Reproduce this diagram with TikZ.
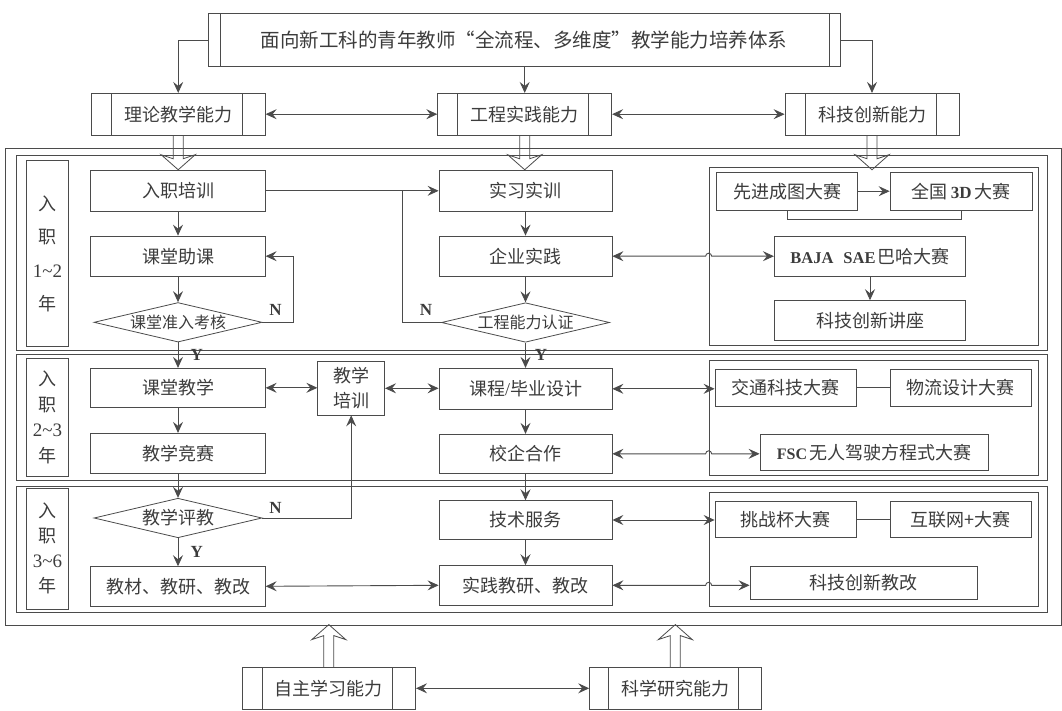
\documentclass[tikz,border=0pt]{standalone}
\usepackage{fontspec}
\setmainfont{Liberation Serif}
\newfontfamily\cjk{Noto Sans CJK SC}
\usetikzlibrary{shapes.geometric,arrows.meta,calc}
\definecolor{linegray}{RGB}{75,75,75}
\definecolor{textgray}{RGB}{60,60,60}

\newcommand{\hollowdown}[2]{%
  \draw[hollow] ($(#1.south)+(-5,0)$) -- ++(0,{#2-11}) -- ++(-12,-4) -- ($(#1.south)+(0,#2)$)
    -- ++(17,-15) -- ++(-12,4) -- ($(#1.south)+(5,0)$);}
\newcommand{\hollowup}[2]{%
  \draw[hollow] ($(#1.north)+(-5,0)$) -- ++(0,{-#2+11}) -- ++(-12,4) -- ($(#1.north)+(0,-#2)$)
    -- ++(17,15) -- ++(-12,-4) -- ($(#1.north)+(5,0)$);}

\begin{document}
\begin{tikzpicture}[%
      x=1pt, y=-1pt,
      line/.style={color=linegray, line width=0.9pt},
      arr/.style={line, -{Stealth[length=11pt,width=10pt,inset=4pt]}},
      dbl/.style={line, {Stealth[length=11pt,width=10pt,inset=4pt]}-{Stealth[length=11pt,width=10pt,inset=4pt]}},
      hollow/.style={color=linegray, line width=0.8pt},
      frame/.style={draw=linegray, line width=0.8pt, inner sep=0pt},
      box/.style={frame, text=textgray, minimum height=40pt, font=\cjk\fontsize{18}{22}\selectfont},
      capbox/.style 2 args={box, path picture={%
          \draw[line] ([xshift=#1]path picture bounding box.north west) -- ([xshift=#1]path picture bounding box.south west);
          \draw[line] ([xshift=-#2]path picture bounding box.north east) -- ([xshift=-#2]path picture bounding box.south east);}},
      dia/.style={diamond, aspect=4.2, frame, text=textgray, minimum width=168pt, minimum height=39.5pt, font=\cjk\fontsize{16}{20}\selectfont},
      yearbox/.style={frame, text=textgray, align=center, minimum width=41.6pt, font=\cjk\fontsize{18}{#1}\selectfont},
      lbl/.style={text=textgray, inner sep=0pt, font=\rmfamily\bfseries\fontsize{17}{20}\selectfont},
      ]
      \useasboundingbox (0,0) rectangle (1062,711);

      % frames
      \node[frame, minimum width=1056pt, minimum height=476.7pt] (outer) at (533,386.65) {};
      \node[frame, minimum width=1030.6pt, minimum height=195.7pt] (rowa) at (532,252.85) {};
      \node[frame, minimum width=1030.6pt, minimum height=125.8pt] (rowb) at (532,417.1) {};
      \node[frame, minimum width=1030.6pt, minimum height=126.7pt] (rowc) at (532,549.35) {};
      \node[yearbox=33.5pt, minimum height=186pt] (yeara) at (47.5,253.7) {入\\职\\{\rmfamily\fontsize{19}{33.5}\selectfont 1\textasciitilde2}\\年};
      \node[yearbox=25.5pt, minimum height=117.7pt] (yearb) at (47.5,417.2) {入\\职\\{\rmfamily\fontsize{19}{25.5}\selectfont 2\textasciitilde3}\\年};
      \node[yearbox=25pt, minimum height=121pt] (yearc) at (47.5,548.8) {入\\职\\{\rmfamily\fontsize{19}{25}\selectfont 3\textasciitilde6}\\年};
      \node[frame, minimum width=329.3pt, minimum height=177.7pt] (grpa) at (873.7,256.2) {};
      \node[frame, minimum width=329.3pt, minimum height=115pt] (grpb) at (873.7,417.5) {};
      \node[frame, minimum width=329.3pt, minimum height=113.3pt] (grpc) at (873.7,549.3) {};

      % top
      \node[capbox={12pt}{11pt}, minimum width=632pt, minimum height=53.4pt, font=\cjk\fontsize{19.5}{24}\selectfont] (ttl) at (524,40) {面向新工科的青年教师“全流程、多维度”教学能力培养体系};
      \node[capbox={20pt}{23pt}, minimum width=174pt, minimum height=41.7pt] (llnl) at (178.2,114.2) {理论教学能力};
      \node[capbox={20pt}{23pt}, minimum width=174pt, minimum height=41.7pt] (gcsj) at (524.7,114.2) {工程实践能力};
      \node[capbox={20pt}{23pt}, minimum width=174pt, minimum height=41.7pt] (kjcx) at (872,114.2) {科技创新能力};

      % left column
      \node[box, minimum width=174.5pt, minimum height=40.3pt] (rzpx) at (178,190.8) {入职培训};
      \node[box, minimum width=174.5pt, minimum height=40.3pt] (ktzk) at (178,256.2) {课堂助课};
      \node[dia] (ktzr) at (178,322.3) {课堂准入考核};
      \node[box, minimum width=174.5pt, minimum height=39pt] (ktjx) at (178,387.8) {课堂教学};
      \node[box, minimum width=174.5pt, minimum height=40pt] (jxjs) at (178,453.3) {教学竞赛};
      \node[dia, font=\cjk\fontsize{18}{22}\selectfont] (jxpj) at (178,518) {教学评教};
      \node[box, minimum width=174.5pt, minimum height=39.3pt] (jcjy) at (178,586.3) {教材、教研、教改};
      \node[box, minimum width=66.8pt, minimum height=53.3pt, align=center, font=\cjk\fontsize{18}{25}\selectfont] (jxpx) at (351.2,388.3) {教学\\培训};

      % middle column
      \node[box, minimum width=173pt, minimum height=40.3pt] (sxsx) at (525.5,190.8) {实习实训};
      \node[box, minimum width=173pt, minimum height=40.3pt] (qysj) at (525.5,256.2) {企业实践};
      \node[dia] (gcrz) at (525.5,322.5) {工程能力认证};
      \node[box, minimum width=173pt, minimum height=41pt] (kcsj) at (525.5,388.8) {课程{\rmfamily /}毕业设计};
      \node[box, minimum width=173pt, minimum height=39pt] (xqhz) at (525.5,453.8) {校企合作};
      \node[box, minimum width=173pt, minimum height=38.6pt] (jsfw) at (525.5,520) {技术服务};
      \node[box, minimum width=173pt, minimum height=39.3pt] (sjjy) at (525.5,585.3) {实践教研、教改};

      % right column
      \node[box, minimum width=141pt, minimum height=37.7pt] (xjct) at (787.2,191.2) {先进成图大赛};
      \node[box, minimum width=142.3pt, minimum height=37.7pt] (qgsd) at (961.2,191.2) {全国{\rmfamily\bfseries\fontsize{17}{20}\selectfont\,3D\,}大赛};
      \node[box, minimum width=191.4pt, minimum height=40pt] (baja) at (870,256.7) {{\rmfamily\bfseries\fontsize{16.5}{20}\selectfont BAJA\hspace{0.6em}SAE}\hspace{2pt}巴哈大赛};
      \node[box, minimum width=191.4pt, minimum height=39.3pt] (kjjz) at (870,320.3) {科技创新讲座};
      \node[box, minimum width=141pt, minimum height=36.7pt] (jtkj) at (785.5,387.7) {交通科技大赛};
      \node[box, minimum width=141pt, minimum height=36.7pt] (wlsj) at (960.5,387.7) {物流设计大赛};
      \node[box, minimum width=228pt, minimum height=36.4pt] (fsc) at (874,452.5) {{\rmfamily\bfseries\fontsize{16}{20}\selectfont FSC}\hspace{2pt}无人驾驶方程式大赛};
      \node[box, minimum width=141pt, minimum height=36.3pt] (tzb) at (785.5,519.2) {挑战杯大赛};
      \node[box, minimum width=141pt, minimum height=36.3pt] (hlw) at (960.5,519.2) {互联网+大赛};
      \node[box, minimum width=227pt, minimum height=32.3pt] (kjjg) at (863.5,582.8) {科技创新教改};

      % bottom
      \node[capbox={20.7pt}{23pt}, minimum width=173.6pt, minimum height=42pt] (zzxx) at (328.8,688.3) {自主学习能力};
      \node[capbox={19.2pt}{22.3pt}, minimum width=171.4pt, minimum height=42pt] (kxyj) at (675.3,688.3) {科学研究能力};

      % Y / N
      \node[lbl] (na) at (275.5,310) {N};
      \node[lbl] (nb) at (426,310) {N};
      \node[lbl] (ya) at (196.7,355) {Y};
      \node[lbl] (yb) at (541,355) {Y};
      \node[lbl] (nc) at (275.5,508.3) {N};
      \node[lbl] (yc) at (196.7,551.7) {Y};

      % connectors, top part
      \draw[arr] (ttl.west) -| (llnl.north);
      \draw[arr] (gcsj.north |- ttl.south) -- (gcsj.north);
      \draw[arr] (ttl.east) -| (kjcx.north);
      \draw[dbl] (llnl.east) -- (gcsj.west);
      \draw[dbl] (gcsj.east) -- (kjcx.west);
      \hollowdown{llnl}{34.3}
      \hollowdown{gcsj}{34.3}
      \hollowdown{kjcx}{34.3}
      \hollowup{zzxx}{42.3}
      \hollowup{kxyj}{42.3}
      \draw[dbl] (zzxx.east) -- (kxyj.west);

      % left column
      \draw[arr] (rzpx) -- (ktzk);
      \draw[arr] (ktzk) -- (ktzr);
      \draw[arr] (ktzr.east) -- ++(31.5,0) |- (ktzk.east);
      \draw[arr] (ktzr) -- (ktjx);
      \draw[arr] (ktjx) -- (jxjs);
      \draw[arr] (jxjs) -- (jxpj);
      \draw[arr] (jxpj) -- (jcjy);
      \draw[arr] (jxpj.east) -| (jxpx.south);
      \draw[dbl] (ktjx.east) -- (ktjx.east -| jxpx.west);
      \draw[dbl] (jxpx.east) -- (jxpx.east -| kcsj.west);
      \draw[dbl] (jcjy.east) -- (sjjy.west);

      % middle column
      \draw[arr] (rzpx.east) -- (sxsx.west);
      \draw[line] (gcrz.west) -| ($(sxsx.west)+(-36,0)$);
      \draw[arr] (sxsx) -- (qysj);
      \draw[arr] (qysj) -- (gcrz);
      \draw[arr] (gcrz) -- (kcsj);
      \draw[arr] (kcsj) -- (xqhz);
      \draw[arr] (xqhz) -- (jsfw);
      \draw[arr] (jsfw) -- (sjjy);

      % to the right
      \draw[dbl] (qysj.east) -- ($(grpa.west |- qysj.east)+(-3,0)$) arc[start angle=180, end angle=360, radius=3] -- (baja.west |- qysj.east);
      \draw[dbl] (kcsj.east) -- (kcsj.east -| jtkj.west);
      \draw[dbl] (xqhz.east) -- ($(grpb.west |- xqhz.east)+(-3,0)$) arc[start angle=180, end angle=360, radius=3] -- (fsc.west |- xqhz.east);
      \draw[dbl] (jsfw.east) -- (jsfw.east -| tzb.west);
      \draw[dbl] (sjjy.east) -- ($(grpc.west |- sjjy.east)+(-3,0)$) arc[start angle=180, end angle=360, radius=3] -- (kjjg.west |- sjjy.east);

      % right column
      \draw[arr] (xjct) -- (qgsd);
      \draw[line] (xjct.south) -- ++(0,9) -| (qgsd.south);
      \draw[arr] (baja) -- (kjjz);
      \draw[line] (jtkj) -- (wlsj);
      \draw[line] (tzb) -- (hlw);
\end{tikzpicture}
\end{document}
